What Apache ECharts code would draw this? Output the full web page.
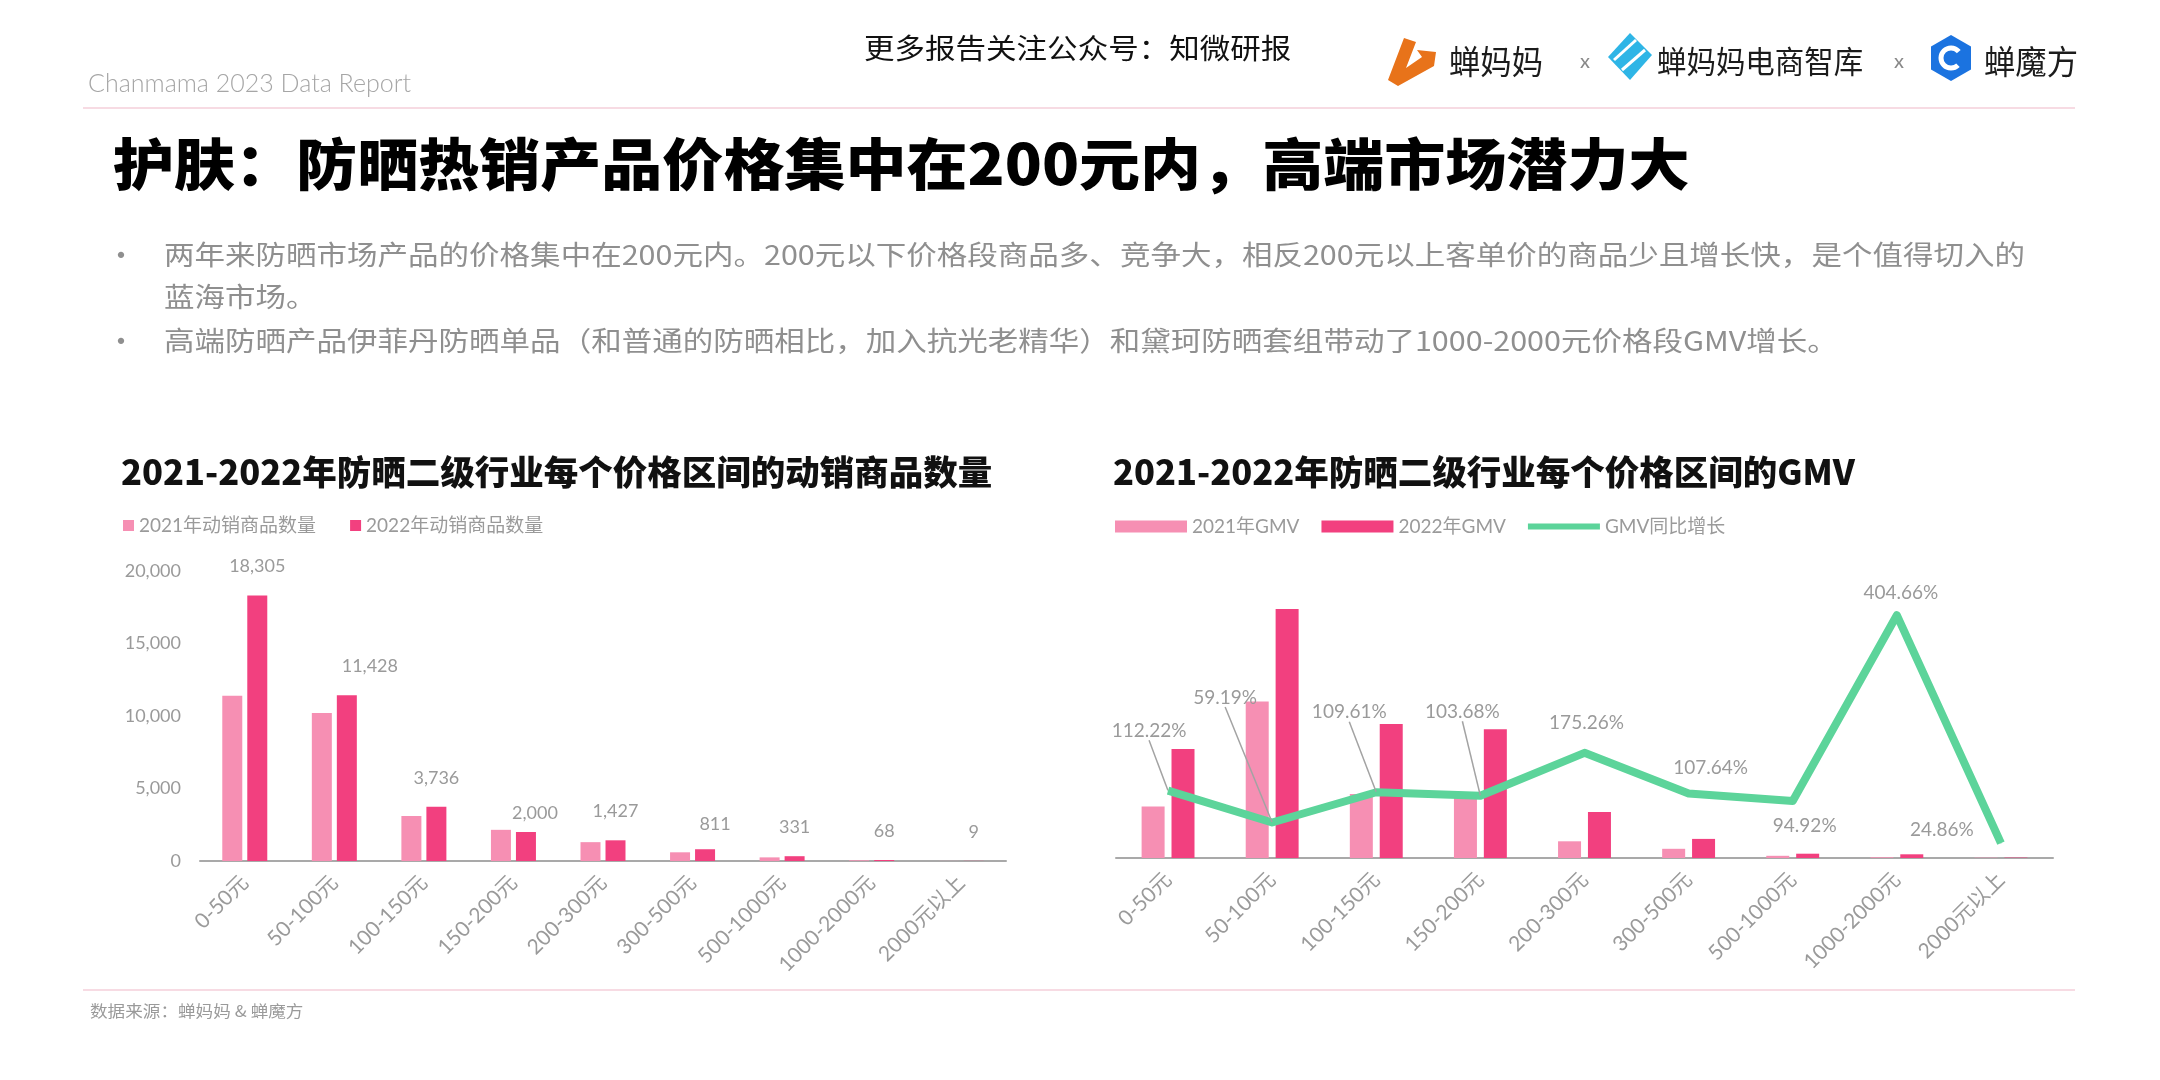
<!DOCTYPE html>
<html>
<head>
<meta charset="utf-8">
<title>防晒价格区间</title>
<script src="https://cdn.jsdelivr.net/npm/echarts@6/dist/echarts.min.js"></script>
<style>
  html, body { margin: 0; padding: 0; background: #fff; }
  #page {
    position: relative;
    width: 2160px;
    height: 1080px;
    overflow: hidden;
    background: #fff;
    font-family: 'Noto Sans CJK SC', sans-serif;
  }
  #chart { position: absolute; left: 0; top: 0; width: 2160px; height: 1080px; }
  .t { position: absolute; white-space: nowrap; transform-origin: 0 50%; z-index: 2; }
  .rule { position: absolute; left: 83px; width: 1992px; height: 2px; background: #f7dbe3; z-index: 2; }
  .report { left: 88px; top: 69px; font: 300 25px/26px Lato, sans-serif; color: #a6a6a6; }
  .follow { left: 864px; top: 33px; font-size: 28px; line-height: 28px; color: #111; transform: scaleX(1.09); }
  .logo-txt { font-size: 33px; line-height: 34px; color: #1c1c1c; top: 43px; transform: scaleX(0.95); }
  .x { font: 20px/20px Lato, sans-serif; color: #888; top: 50px; }
  .headline { left: 113px; top: 133px; font-size: 56px; line-height: 56px; font-weight: 900; color: #000; transform: scaleX(1.09); }
  .bullet { font-size: 27px; line-height: 27px; color: #8f8f8f; transform: scaleX(1.13); }
  .dot { left: 106px; font-size: 30px; line-height: 30px; color: #8f8f8f; }
  .source { left: 90px; top: 1002px; font-size: 16px; line-height: 16px; color: #9a9a9a; transform: scaleX(1.1); }
</style>
</head>
<body>
<div id="page">
  <div id="chart"></div>

  <div class="t report">Chanmama 2023 Data Report</div>
  <div class="rule" style="top:107px"></div>
  <div class="t follow">更多报告关注公众号：知微研报</div>
  <div class="t logo-txt" style="left:1449px">蝉妈妈</div>
  <div class="t x" style="left:1580px">x</div>
  <div class="t logo-txt" style="left:1657px;font-size:31px">蝉妈妈电商智库</div>
  <div class="t x" style="left:1894px">x</div>
  <div class="t logo-txt" style="left:1984px">蝉魔方</div>

  <div class="t headline">护肤：防晒热销产品价格集中在200元内，高端市场潜力大</div>
  <div class="t dot" style="top:238px">•</div>
  <div class="t bullet" style="left:164px;top:240px">两年来防晒市场产品的价格集中在200元内。200元以下价格段商品多、竞争大，相反200元以上客单价的商品少且增长快，是个值得切入的</div>
  <div class="t bullet" style="left:164px;top:282px">蓝海市场。</div>
  <div class="t dot" style="top:324px">•</div>
  <div class="t bullet" style="left:164px;top:326px">高端防晒产品伊菲丹防晒单品（和普通的防晒相比，加入抗光老精华）和黛珂防晒套组带动了1000-2000元价格段GMV增长。</div>

  <div class="rule" style="top:989px"></div>
  <div class="t source">数据来源：蝉妈妈 &amp; 蝉魔方</div>
</div>

<script>
// 价格区间
const categories = ['0-50元', '50-100元', '100-150元', '150-200元', '200-300元', '300-500元', '500-1000元', '1000-2000元', '2000元以上']

// 动销商品数量
const count2021 = [11400, 10200, 3100, 2150, 1300, 600, 250, 50, 5]
const count2022 = [18305, 11428, 3736, 2000, 1427, 811, 331, 68, 9]
const countTicks = [0, 5000, 10000, 15000, 20000]

// GMV（图中无刻度，按柱高估读）
const gmv2021 = [5.14, 15.65, 6.4, 6.32, 1.67, 0.92, 0.22, 0.073, 0.032]
const gmv2022 = [10.91, 24.91, 13.41, 12.87, 4.6, 1.91, 0.43, 0.37, 0.04]
const gmvGrowth = [112.22, 59.19, 109.61, 103.68, 175.26, 107.64, 94.92, 404.66, 24.86]

const pinkLight = '#f68fb3'
const pinkDeep = '#f2407f'
const green = '#5cd49a'
const gray = '#9a9a9a'
const latin = 'Lato, "Noto Sans CJK SC", sans-serif'

// 标签微调（像素）
const countLabelNudge = { 1: [23, 0], 3: [9, 10], 5: [10, 4] }
const growthLabelShift = [[-19, -60], [-47, -125], [-27, -80], [-18, -84], [2, -30], [22, -26], [12, 25], [4, -22], [-59, -13]]

const chart = echarts.init(document.getElementById('chart'))

const xAxisBase = {
  type: 'category',
  data: categories,
  axisTick: { show: false },
  axisLine: { lineStyle: { color: '#a9a9a9', width: 2 } },
  axisLabel: { rotate: 45, interval: 0, color: gray, fontSize: 21, fontFamily: latin, margin: 18 }
}

chart.setOption({
  animation: false,
  textStyle: { fontFamily: latin },
  title: [
    {
      text: '2021-2022年防晒二级行业每个价格区间的动销商品数量',
      left: 121, top: 455, padding: 0,
      textStyle: { fontSize: 34.5, fontWeight: 900, color: '#111', fontFamily: 'Noto Sans CJK SC' }
    },
    {
      text: '2021-2022年防晒二级行业每个价格区间的GMV',
      left: 1113, top: 455, padding: 0,
      textStyle: { fontSize: 34.5, fontWeight: 900, color: '#111', fontFamily: 'Noto Sans CJK SC' }
    }
  ],
  legend: [
    {
      data: ['2021年动销商品数量', '2022年动销商品数量'],
      left: 123, top: 516, padding: 0,
      icon: 'rect', itemWidth: 11, itemHeight: 11, itemGap: 34,
      textStyle: { color: gray, fontSize: 19, fontFamily: latin }
    },
    {
      data: [
        { name: '2021年GMV', icon: 'rect' },
        { name: '2022年GMV', icon: 'rect' },
        { name: 'GMV同比增长', icon: 'path://M0,0H72V6H0Z' }
      ],
      left: 1115, top: 517, padding: 0,
      itemWidth: 72, itemHeight: 12, itemGap: 22,
      textStyle: { color: gray, fontSize: 19, fontFamily: latin }
    }
  ],
  grid: [
    { left: 200, right: 1154, top: 571, bottom: 219 },
    { left: 1116, right: 107, top: 558, bottom: 222 }
  ],
  xAxis: [
    Object.assign({ gridIndex: 0 }, xAxisBase),
    Object.assign({ gridIndex: 1 }, xAxisBase)
  ],
  yAxis: [
    {
      gridIndex: 0, type: 'value',
      min: countTicks[0], max: countTicks[countTicks.length - 1], interval: countTicks[1] - countTicks[0],
      axisLine: { show: false }, axisTick: { show: false }, splitLine: { show: false },
      axisLabel: { color: gray, fontSize: 18, fontFamily: latin, margin: 19, formatter: v => v.toLocaleString('en-US') }
    },
    { gridIndex: 1, type: 'value', min: 0, max: 30, show: false, splitLine: { show: false } },
    { gridIndex: 1, type: 'value', min: 0, max: 500, show: false, splitLine: { show: false } }
  ],
  graphic: [
    // 蝉妈妈 logo
    {
      type: 'polygon', z: 10,
      shape: { points: [[1404, 38], [1416, 42], [1406, 68], [1422, 57], [1417, 50], [1436, 52], [1434, 66], [1398, 86], [1388, 80]] },
      style: { fill: '#e8731a' }
    },
    // 电商智库 logo
    {
      type: 'polygon', z: 10,
      shape: { points: [[1630, 33], [1652, 55], [1630, 80], [1608, 57]] },
      style: { fill: '#2eb5e6' }
    },
    { type: 'line', z: 11, shape: { x1: 1614, y1: 60, x2: 1636, y2: 40 }, style: { stroke: '#fff', lineWidth: 3 } },
    { type: 'line', z: 11, shape: { x1: 1622, y1: 70, x2: 1645, y2: 50 }, style: { stroke: '#fff', lineWidth: 3 } },
    // 蝉魔方 logo
    {
      type: 'polygon', z: 10,
      shape: { points: [[1951, 35], [1971, 46.5], [1971, 69.5], [1951, 81], [1931, 69.5], [1931, 46.5]] },
      style: { fill: '#1b73e0' }
    },
    {
      type: 'arc', z: 11,
      shape: { cx: 1951, cy: 58, r: 10, startAngle: 0.8, endAngle: 5.6 },
      style: { stroke: '#fff', lineWidth: 5, fill: null }
    }
  ],
  series: [
    {
      name: '2021年动销商品数量', type: 'bar', xAxisIndex: 0, yAxisIndex: 0,
      data: count2021, barWidth: 20, barGap: '25%',
      itemStyle: { color: pinkLight }
    },
    {
      name: '2022年动销商品数量', type: 'bar', xAxisIndex: 0, yAxisIndex: 0,
      data: count2022, barWidth: 20, barGap: '25%',
      itemStyle: { color: pinkDeep },
      label: {
        show: true, position: 'top', distance: 20,
        color: gray, fontSize: 18, fontFamily: latin,
        formatter: p => p.value.toLocaleString('en-US')
      },
      labelLayout: p => {
        const n = countLabelNudge[p.dataIndex]
        return n ? { dx: n[0], dy: n[1] } : {}
      }
    },
    {
      name: '2021年GMV', type: 'bar', xAxisIndex: 1, yAxisIndex: 1,
      data: gmv2021, barWidth: 23, barGap: '30%',
      itemStyle: { color: pinkLight }
    },
    {
      name: '2022年GMV', type: 'bar', xAxisIndex: 1, yAxisIndex: 1,
      data: gmv2022, barWidth: 23, barGap: '30%',
      itemStyle: { color: pinkDeep }
    },
    {
      name: 'GMV同比增长', type: 'line', xAxisIndex: 1, yAxisIndex: 2,
      data: gmvGrowth.map((v, i) => ({ value: v, labelLine: { show: i < 4 } })),
      symbol: 'circle', symbolSize: 1, z: 5,
      lineStyle: { color: green, width: 8, join: 'round' },
      itemStyle: { color: green },
      label: {
        show: true, position: 'inside',
        color: gray, fontSize: 19, fontFamily: latin,
        formatter: p => p.value.toFixed(2) + '%'
      },
      labelLine: { lineStyle: { color: '#a3a3a3', width: 1.5 } },
      labelLayout: p => {
        const s = growthLabelShift[p.dataIndex]
        return { dx: s[0], dy: s[1] }
      }
    }
  ]
})
</script>
</body>
</html>
